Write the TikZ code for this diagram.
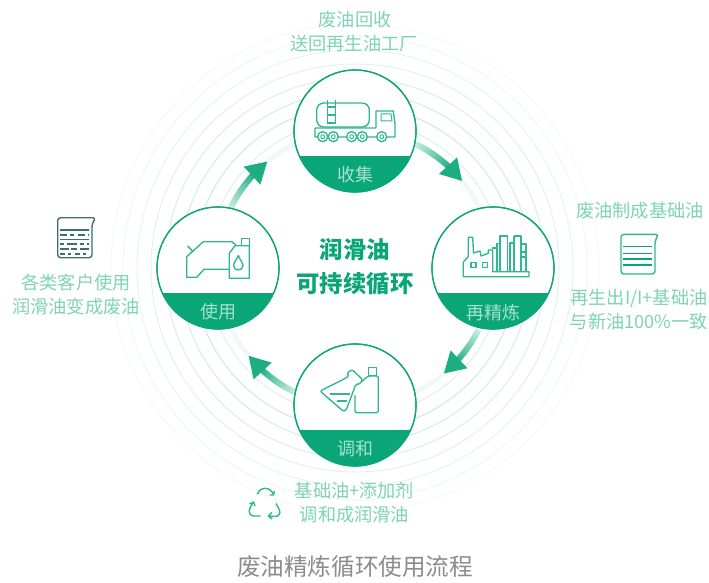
\documentclass[tikz,border=0pt]{standalone}
\usepackage{fontspec}
\setmainfont{Noto Sans CJK SC}
\usetikzlibrary{arrows.meta,calc}
\definecolor{gmain}{HTML}{0BA678}
\definecolor{gicon}{HTML}{2DB88D}
\definecolor{gtext}{HTML}{7FD3B7}
\definecolor{glabel}{HTML}{A5E2CE}
\definecolor{gstart}{HTML}{C4ECDF}
\definecolor{gend}{HTML}{1CAD80}
\definecolor{teal}{HTML}{3E7069}
\definecolor{gtitle}{HTML}{8C8C8C}
\tikzset{
  hub/.style={circle,minimum size=122pt,inner sep=0pt,draw=gmain,line width=1.2pt,fill=white},
  band/.style={fill=gmain},
  hublabel/.style={font=\fontsize{18}{18}\selectfont,text=glabel,inner sep=0pt},
  note/.style={font=\fontsize{18.2}{18.2}\selectfont,text=gtext,inner sep=0pt},
  core/.style={font=\fontsize{23.4}{23.4}\selectfont\bfseries,text=gmain,inner sep=0pt},
  title/.style={font=\fontsize{23.6}{23.6}\selectfont,text=gtitle,inner sep=0pt},
  ico/.style={draw=gicon,line width=1.35pt,line join=round,fill=none},
  ring/.style={draw=gmain,line width=1pt,fill=none},
}
% #1 start angle, #2 tip angle, #3 name of the tip coordinate
\newcommand{\flowarc}[3]{%
  \pgfmathsetmacro{\dA}{(#2-#1)*0.72/24}%
  \foreach \i in {0,...,23}{%
    \pgfmathsetmacro{\aA}{#1+\i*\dA}%
    \pgfmathsetmacro{\aB}{#1+(\i+1.15)*\dA}%
    \pgfmathsetmacro{\mx}{int(\i*100/23)}%
    \draw[line width=6pt,color=gend!\mx!gstart]
      plot[domain=\aA:\aB,samples=4] ({355+138*cos(\x)},{268-138*sin(\x)});
  }%
  \pgfmathsetmacro{\aC}{#1+24*\dA}%
  \coordinate (#3-base) at ({355+138*cos(\aC)},{268-138*sin(\aC)});
  \coordinate (#3) at ({355+138*cos(#2)},{268-138*sin(#2)});
  \draw[line width=6pt,color=gend,-{Triangle[length=21pt,width=23pt]}] (#3-base) -- (#3);
}
\begin{document}
\begin{tikzpicture}[x=1pt,y=-1pt]
\useasboundingbox (0,0) rectangle (709,583);
\fill[white] (0,0) rectangle (709,583);
\coordinate (c) at (355,268);
% concentric rings
\foreach \r/\o in {244/0.05,232/0.07,218/0.10,204/0.13,190/0.16,176/0.19,162/0.22,148/0.14}{
  \draw[ring,opacity=\o] (c) circle[radius=\r pt];
}
\draw[gmain,opacity=0.06,line width=5pt] (c) circle[radius=138pt];
% flow arrows
\flowarc{64}{39}{t1}
\flowarc{-26.7}{-50}{t2}
\flowarc{-116}{-140.6}{t3}
\flowarc{154}{129.4}{t4}
% hubs
\node[hub] (n1) at (355,131) {};
\node[hub] (n2) at (493,268) {};
\node[hub] (n3) at (355,405) {};
\node[hub] (n4) at (218,268) {};
\foreach \n in {n1,n2,n3,n4}{
  \begin{scope}
    \clip (\n) circle[radius=61pt];
    \fill[band] ($(\n)+(-62,25)$) rectangle ($(\n)+(62,63)$);
  \end{scope}
  \draw[gmain,line width=1.2pt] (\n) circle[radius=61pt];
}
\node[hublabel] (l1) at (355,175) {收集};
\node[hublabel] (l2) at (493,312.5) {再精炼};
\node[hublabel] (l3) at (355,448.5) {调和};
\node[hublabel] (l4) at (218.5,312) {使用};
% centre
\node[core] (k1) at (355,250) {润滑油};
\node[core] (k2) at (355,284) {可持续循环};
% notes
\node[note] (a1) at (355,20) {废油回收};
\node[note] (a2) at (354,44) {送回再生油工厂};
\node[note] (b1) at (640,211) {废油制成基础油};
\node[note] (b2) at (639,298) {再生出I/I+基础油};
\node[note] (b3) at (639,322) {与新油100\%一致};
\node[note] (d1) at (76,283) {各类客户使用};
\node[note] (d2) at (76,307) {润滑油变成废油};
\node[note] (e1) at (354.5,491) {基础油+添加剂};
\node[note] (e2) at (354.5,515) {调和成润滑油};
\node[title] (ttl) at (355,567) {废油精炼循环使用流程};
% truck
\draw[ico,rounded corners=7pt] (316.7,103) rectangle (369.3,127);
\draw[ico,fill=white] (327.7,100) -- (327.7,124) (335.7,100) -- (335.7,124)
  (327.7,107) -- (335.7,107) (327.7,115) -- (335.7,115) (327.7,123) -- (335.7,123);
\draw[ico] (315,128) -- (376,128) (315,128) -- (315,137) -- (395,137) -- (395,124) -- (393.3,111) -- (376,111) -- (376,128);
\draw[ico,line width=1pt] (381,114) -- (391,114) -- (392,121) -- (381,121) -- cycle;
\foreach \w in {322.7,333.3,351.7,362.3,381.7}{
  \draw[ico,fill=white] (\w,136.7) circle[radius=5pt];
  \draw[ico,line width=.9pt] (\w,136.7) circle[radius=2pt];
}
% factory
\draw[ico] (463.3,262) -- (468.3,256.7) -- (468.3,237.3) -- (472.7,237.3) -- (473.5,253) -- (480,251) -- (481,256) -- (488.3,253.3) -- (488.3,250) -- (492.7,250)
  (463.3,262) -- (463.3,276.7) -- (529,276.7) -- (529,271.7) -- (492.7,271.7) -- (492.7,250);
\draw[ico] (492.7,271.7) -- (492.7,248) -- (497,248) -- (497,243.3) -- (500,243.3) (497,248) -- (497,271.7)
  (500,271.7) -- (500,236) -- (507.7,236) -- (507.7,271.7)
  (510,271.7) -- (510,243) -- (514,243) -- (514,271.7)
  (514,236) -- (521,236) -- (521,271.7) (514,236) -- (514,243)
  (521,244) -- (526,244) -- (526,271.7) (521,252) -- (526,252) (521,257) -- (526,257);
\draw[ico] (471,262.3) rectangle (476,267.3) (482.7,262.3) rectangle (487.7,267.3);
% car and oil can
\draw[ico] (229.3,269.3) -- (204,269.3) -- (196.7,277.3) -- (186.7,277.3) -- (186.7,256.7) -- (203.3,241.7) -- (231.7,241.7) -- (236,245);
\draw[ico] (187.7,246) -- (193.3,251.7);
\draw[ico] (235,245.7) -- (249.3,245.7) -- (249.3,278.3) -- (229.3,278.3) -- (229.3,253.3) -- cycle;
\draw[ico] (241.7,245.7) -- (241.7,238.3) -- (249.3,238.3) -- (249.3,245.7);
\draw[ico] (238.3,255.5) .. controls (236,261) and (233.5,263) .. (233.5,265.5) .. controls (233.5,271.5) and (243,271.5) .. (243,265.5) .. controls (243,263) and (240.5,261) .. (238.3,255.5) -- cycle;
% flask and bottle
\draw[ico,rounded corners=2.2pt] (320,391) -- (346,378) -- (349,376) -- (347,373) -- (352,369.5) -- (363,380) -- (359,384.5) -- (356,384) -- (346,410.5) -- (343,411) -- cycle;
\draw[ico] (330,394) -- (350,394) (336.7,401) -- (347.3,401);
\draw[ico,rounded corners=1.5pt] (361,382) -- (368.3,376) -- (378.3,376) -- (378.3,412.7) -- (355,412.7) -- (355,395);
\draw[ico] (368.3,375.5) rectangle (376.7,367.3);
% right beaker
\draw[ico,line width=1.4pt,rounded corners=3pt] (621,234.3) -- (658.5,234.3) -- (655,241) -- (655,274) -- (621,274) -- cycle;
\draw[gmain,line width=1.1pt] (622.7,246.7) -- (651.7,246.7) (622.7,253.3) -- (651.7,253.3) (622.7,259) -- (651.7,259) (622.7,265) -- (651.7,265);
% left beaker
\draw[draw=teal,line width=1.4pt,rounded corners=3pt] (57.7,217.7) -- (95.7,217.7) -- (92,224) -- (92,257.7) -- (57.7,257.7) -- cycle;
\draw[teal,line width=1.2pt] (59.5,230) -- (89,230);
\draw[teal,line width=1.1pt,dash pattern=on 7pt off 3pt on 4pt off 4pt] (59.5,235) -- (89,235);
\draw[teal,line width=1.1pt] (59.5,239.5) -- (89,239.5);
\draw[teal,line width=1.1pt,dash pattern=on 4pt off 3pt on 10pt off 3pt] (59.5,244) -- (89,244);
\draw[teal,line width=1.1pt,dash pattern=on 9pt off 2pt on 6pt off 3pt] (59.5,249) -- (89,249);
\draw[teal,line width=1.1pt,dash pattern=on 5pt off 3pt on 3pt off 4pt] (59.5,254) -- (89,254);
% recycle sign
\draw[ico,line width=1.4pt] (257.3,494.3) .. controls (260,489) and (262,488.3) .. (265,488.3) .. controls (269,488.3) and (272,491) .. (273.3,494);
\draw[ico,line width=1.4pt] (269.5,495) -- (273.5,495) -- (274.5,491);
\draw[ico,line width=1.4pt] (253.3,502) -- (250,508) .. controls (248,512) and (250,516) .. (254,516) -- (260.7,516);
\draw[ico,line width=1.4pt] (249.5,504) -- (253.5,502) -- (255,506);
\draw[ico,line width=1.4pt] (276,503.5) -- (279.5,510) .. controls (281,514) and (278,516.5) .. (275,516.5) -- (268.5,516);
\draw[ico,line width=1.4pt] (272,512.5) -- (268.3,516) -- (272.3,519);
\end{tikzpicture}
\end{document}
